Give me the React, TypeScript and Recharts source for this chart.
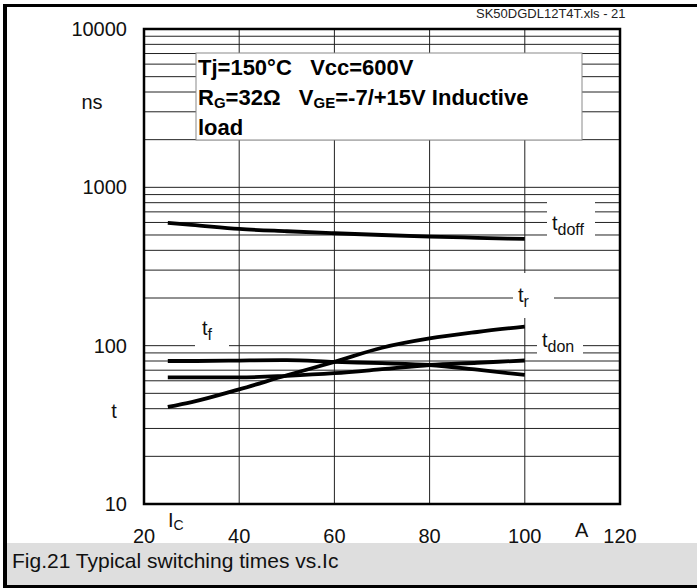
import { LineChart, Line, XAxis, YAxis, CartesianGrid, ReferenceArea } from "recharts";

// collector current Ic (A)
const currents = [25, 30, 40, 50, 60, 70, 80, 90, 100];
// switching times (ns)
const tdoff = [596, 580, 546, 528, 513, 500, 489, 480, 472];
const tr = [41, 44, 53, 65, 79, 97, 111, 122, 132];
const tf = [80, 80, 80.5, 81, 79, 77.5, 75.5, 70.5, 65.3];
const tdon = [63, 63, 63, 64.5, 67, 71, 75.5, 78, 80.6];

const xTicks = [20, 40, 60, 80, 100, 120];
const yTicks = [
  10, 20, 30, 40, 50, 60, 70, 80, 90,
  100, 200, 300, 400, 500, 600, 700, 800, 900,
  1000, 2000, 3000, 4000, 5000, 6000, 7000, 8000, 9000,
  10000,
];
const yLabels = [10, 100, 1000, 10000];

const data = currents.map((ic, i) => ({
  ic,
  tdoff: tdoff[i],
  tr: tr[i],
  tf: tf[i],
  tdon: tdon[i],
}));

const font = "'Liberation Sans', Arial, Helvetica, sans-serif";

function SubLabel({ x, y, main, sub, box }: { x: number; y: number; main: string; sub: string; box: number[] }) {
  return (
    <g>
      <rect x={box[0]} y={box[1]} width={box[2]} height={box[3]} fill="#fff" />
      <text x={x} y={y} fontSize={20} fill="#111">
        {main}
        <tspan fontSize={16} dy={5}>{sub}</tspan>
      </text>
    </g>
  );
}

export default function App() {
  return (
    <div style={{ position: "absolute", left: 0, top: 0, width: 697, height: 588, background: "#fff", fontFamily: font }}>
      <LineChart
        width={697}
        height={588}
        data={data}
        margin={{ top: 29, right: 77, bottom: 0, left: 0 }}
      >
        <CartesianGrid stroke="#222" strokeWidth={1} />
        <XAxis
          dataKey="ic"
          type="number"
          domain={[20, 120]}
          ticks={xTicks}
          interval={0}
          height={84}
          tickLine={false}
          axisLine={false}
          tickSize={0}
          tickMargin={25}
          tick={{ fill: "#111", fontSize: 20 }}
        />
        <YAxis
          scale="log"
          domain={[10, 10000]}
          ticks={yTicks}
          interval={0}
          width={144}
          allowDataOverflow
          tickLine={false}
          axisLine={false}
          tickSize={0}
          tickMargin={17}
          tick={{ fill: "#111", fontSize: 20 }}
          tickFormatter={(v: number) => (yLabels.includes(v) ? String(v) : "")}
        />
        <Line type="monotone" dataKey="tdoff" stroke="#000" strokeWidth={3.8} dot={false} isAnimationActive={false} />
        <Line type="monotone" dataKey="tr" stroke="#000" strokeWidth={3.8} dot={false} isAnimationActive={false} />
        <Line type="monotone" dataKey="tf" stroke="#000" strokeWidth={3.8} dot={false} isAnimationActive={false} />
        <Line type="monotone" dataKey="tdon" stroke="#000" strokeWidth={3.8} dot={false} isAnimationActive={false} />
        <ReferenceArea x1={20} x2={120} y1={10} y2={10000} fill="none" stroke="#000" strokeWidth={2.5} ifOverflow="visible" />
      </LineChart>

      <svg width={697} height={588} style={{ position: "absolute", left: 0, top: 0, pointerEvents: "none" }} fontFamily={font}>
        {/* frame and caption band */}
        <rect x={3} y={4} width={694} height={3} fill="#000" />
        <rect x={3} y={4} width={4} height={584} fill="#000" />
        <rect x={7} y={543} width={690} height={42} fill="#dedede" />
        <rect x={3} y={585} width={694} height={3} fill="#000" />
        <text x={12} y={568} fontSize={21} fill="#111">Fig.21 Typical switching times vs.Ic</text>
        <text x={476} y={18} fontSize={13} fill="#222">SK50DGDL12T4T.xls - 21</text>

        {/* conditions box */}
        <rect x={196} y={53} width={386} height={87} fill="#fff" stroke="#8a8a8a" strokeWidth={1} />
        <text x={198} y={75} fontSize={22} fontWeight="bold" fill="#000" style={{ whiteSpace: "pre" }}>
          {"Tj=150°C   Vcc=600V"}
        </text>
        <text x={198} y={105} fontSize={22} fontWeight="bold" fill="#000" style={{ whiteSpace: "pre" }}>
          R<tspan fontSize={15} dy={3}>G</tspan>
          <tspan dy={-3}>{"=32Ω   V"}</tspan>
          <tspan fontSize={15} dy={3}>GE</tspan>
          <tspan dy={-3}>=-7/+15V Inductive</tspan>
        </text>
        <text x={198} y={135} fontSize={22} fontWeight="bold" fill="#000">load</text>

        {/* axis labels */}
        <text x={92} y={109} fontSize={20} textAnchor="middle" fill="#111">ns</text>
        <text x={114} y={418} fontSize={20} textAnchor="middle" fill="#111">t</text>
        <text x={168} y={527} fontSize={20} fill="#111">
          I<tspan fontSize={14} dy={3}>C</tspan>
        </text>
        <text x={575} y={537} fontSize={20} fill="#111">A</text>

        {/* curve labels */}
        <SubLabel x={552} y={230} main="t" sub="doff" box={[547, 199, 48, 42]} />
        <SubLabel x={518} y={302} main="t" sub="r" box={[513, 273, 41, 45]} />
        <SubLabel x={542} y={347} main="t" sub="don" box={[537, 331, 46, 26]} />
        <SubLabel x={202} y={335} main="t" sub="f" box={[195, 313, 34, 37]} />
      </svg>
    </div>
  );
}
